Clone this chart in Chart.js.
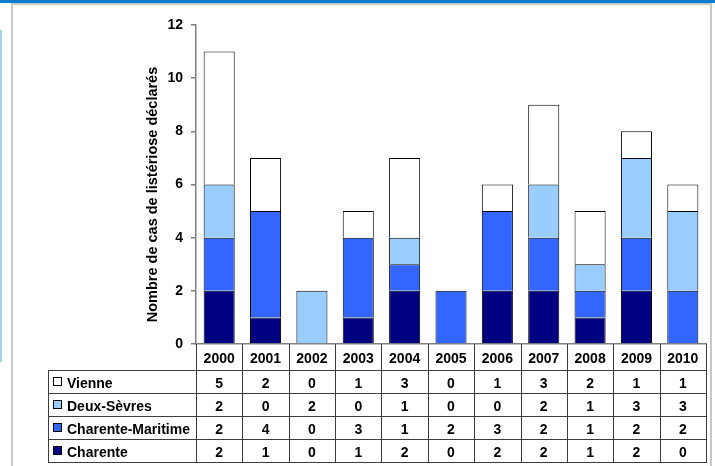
<!DOCTYPE html>
<html>
<head>
<meta charset="utf-8">
<script src="https://cdn.jsdelivr.net/npm/chart.js@4.4.1/dist/chart.umd.min.js"></script>
<style>
  html, body { margin: 0; padding: 0; background: #fff; }
  body { width: 715px; height: 466px; position: relative; overflow: hidden; }
  #band { position: absolute; left: 0; top: 0; width: 715px; height: 3px; background: #0b7dd0; }
  #strip { position: absolute; left: 0; top: 30px; width: 2px; height: 332px; background: #a3d1f2; }
  #panel { position: absolute; left: 11px; top: 3px; width: 697px; height: 470px;
           border: 2px solid #c8c8c8; border-bottom: none; background: #fff; }
  #c { position: absolute; left: 0; top: 0; }
</style>
</head>
<body>
<div id="band"></div>
<div id="strip"></div>
<div id="panel"></div>
<canvas id="c" width="715" height="466"></canvas>
<script>
// Listeriosis cases declared per year, by département
const years = ['2000', '2001', '2002', '2003', '2004', '2005', '2006', '2007', '2008', '2009', '2010'];
const charente         = [2, 1, 0, 1, 2, 0, 2, 2, 1, 2, 0];
const charenteMaritime = [2, 4, 0, 3, 1, 2, 3, 2, 1, 2, 2];
const deuxSevres       = [2, 0, 2, 0, 1, 0, 0, 2, 1, 3, 3];
const vienne           = [5, 2, 0, 1, 3, 0, 1, 3, 2, 1, 1];
const yTicks = [0, 2, 4, 6, 8, 10, 12];
const yTitle = 'Nombre de cas de listériose déclarés';

const seriesNames  = ['Charente', 'Charente-Maritime', 'Deux-Sèvres', 'Vienne'];
const seriesValues = [charente, charenteMaritime, deuxSevres, vienne];
const seriesColors = ['#000080', '#3366ff', '#99ccff', '#ffffff'];

const FONT = '"Liberation Sans", Arial, sans-serif';

// Data table under the plot: year header, then one row per series (top of stack first)
const dataTable = {
  id: 'dataTable',
  afterDraw(chart) {
    const { ctx, chartArea: a, scales: { x } } = chart;
    const n = years.length;
    const colW = (a.right - a.left) / n;
    const top = a.bottom;
    const headH = 26, rowH = 23;
    const tableLeft = 48;
    const order = [3, 2, 1, 0];
    const bottom = top + headH + order.length * rowH;
    const edge = i => (i < n ? x.getPixelForValue(i) - colW / 2 : x.getPixelForValue(n - 1) + colW / 2);

    ctx.save();
    ctx.strokeStyle = '#3c3c3c';
    ctx.lineWidth = 1;
    ctx.beginPath();
    for (let i = 0; i <= n; i++) {
      const xx = Math.round(edge(i)) + 0.5;
      ctx.moveTo(xx, top);
      ctx.lineTo(xx, bottom);
    }
    ctx.moveTo(tableLeft + 0.5, top + headH);
    ctx.lineTo(tableLeft + 0.5, bottom);
    for (let k = 0; k <= order.length; k++) {
      const yy = Math.round(top + headH + k * rowH) + 0.5;
      ctx.moveTo(tableLeft, yy);
      ctx.lineTo(Math.round(edge(n)) + 1, yy);
    }
    ctx.stroke();

    ctx.fillStyle = '#000';
    ctx.font = 'bold 14px ' + FONT;
    ctx.textAlign = 'center';
    ctx.textBaseline = 'alphabetic';
    years.forEach((yr, i) => ctx.fillText(yr, x.getPixelForValue(i), top + 19));

    order.forEach((s, k) => {
      const rowTop = top + headH + k * rowH;
      const base = rowTop + 18;
      ctx.fillStyle = seriesColors[s];
      ctx.fillRect(53, rowTop + 7, 9, 9);
      ctx.strokeStyle = '#000';
      ctx.strokeRect(53.5, rowTop + 7.5, 8, 8);
      ctx.fillStyle = '#000';
      ctx.textAlign = 'left';
      ctx.fillText(seriesNames[s], 67, base);
      ctx.textAlign = 'center';
      seriesValues[s].forEach((v, i) => ctx.fillText(String(v), x.getPixelForValue(i), base));
    });

    // vertical axis title
    ctx.save();
    ctx.translate(157, (a.top + a.bottom) / 2 + 10);
    ctx.rotate(-Math.PI / 2);
    ctx.font = 'bold 14.5px ' + FONT;
    ctx.textAlign = 'center';
    ctx.fillText(yTitle, 0, 0);
    ctx.restore();
    ctx.restore();
  }
};

Chart.defaults.font.family = FONT;
Chart.defaults.font.size = 14;
Chart.defaults.font.weight = 'bold';
Chart.defaults.color = '#000';

new Chart(document.getElementById('c'), {
  type: 'bar',
  data: {
    labels: years,
    datasets: seriesNames.map((name, s) => ({
      label: name,
      data: seriesValues[s],
      backgroundColor: seriesColors[s],
      borderColor: '#000',
      borderWidth: 1,
      barPercentage: 0.67,
      categoryPercentage: 1
    }))
  },
  options: {
    responsive: false,
    animation: false,
    layout: { padding: { left: 0, top: 25, right: 9, bottom: 122 } },
    plugins: { legend: { display: false }, tooltip: { enabled: false } },
    scales: {
      x: {
        stacked: true,
        ticks: { display: false },
        grid: { display: false, drawTicks: false },
        border: { display: true, color: '#808080', width: 1.5 },
        afterFit: s => { s.height = 0; }
      },
      y: {
        stacked: true,
        min: 0,
        max: 12,
        afterBuildTicks: s => { s.ticks = yTicks.map(v => ({ value: v })); },
        ticks: { padding: 8, font: { size: 14, weight: 'bold' } },
        grid: { drawOnChartArea: false, drawTicks: true, tickLength: 5, color: '#808080', lineWidth: 1.5 },
        border: { display: true, color: '#808080', width: 1.5 },
        afterFit: s => { s.width = 196; }
      }
    }
  },
  plugins: [dataTable]
});
</script>
</body>
</html>
